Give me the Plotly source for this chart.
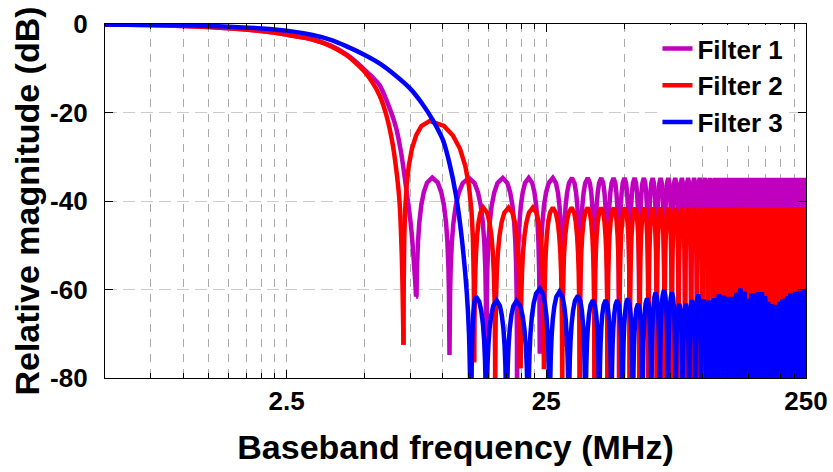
import numpy as np
import plotly.graph_objects as go

# ---------------- axis ticks ----------------
x_tick_vals = [2.5, 25, 250]
x_tick_text = ["2.5", "25", "250"]
x_minor_vals = [0.75, 1.0, 1.25, 1.5, 1.75, 2.0, 2.25,
                5, 7.5, 10, 12.5, 15, 17.5, 20, 22.5,
                50, 75, 100, 125, 150, 175, 200, 225]
y_tick_vals = [0, -20, -40, -60, -80]
y_tick_text = ["0", "-20", "-40", "-60", "-80"]

series_names = ["Filter 1", "Filter 2", "Filter 3"]
series_colors = ["#BF00BF", "#FF0000", "#0000FF"]

# ---------------- Filter 1 (magenta) ----------------
f1_pass_f = [0.5, 0.75, 1.0, 1.5, 2.0, 2.5, 3.15, 3.7, 4.24, 4.6, 5.0, 5.35, 5.7,
             6.1, 6.6, 6.9, 7.21, 7.54, 7.8, 7.88]
f1_pass_db = [-0.1, -0.25, -0.45, -0.95, -1.6, -2.4, -3.5, -4.9, -6.8, -8.4, -10.4, -12.0, -13.8,
              -17.6, -23.4, -29.0, -36.8, -45.8, -57.1, -61.6]
f1_null_f = [7.88, 10.6, 14.7, 19.3, 23.6, 28.9]
f1_null_db = [-61.6, -74.8, -95.0, -95.0, -74.5, -73.0]
f1_peak_f = [9.1, 12.6, 17.0, 21.4, 26.5, 31.4, 36.1, 40.7, 45.4, 50.0, 54.7, 59.4, 64.2,
             68.9, 73.7, 78.4, 83.2, 87.9, 92.7, 97.4, 102.2, 106.9, 111.7, 116.4, 121.2,
             125.9, 130.7, 135.4, 140.2, 144.9, 149.7, 154.4, 159.2, 163.9, 168.7, 173.4,
             178.2, 182.9, 187.7, 192.4, 197.2, 201.9, 206.7, 211.4, 216.2, 220.9, 225.7,
             230.4, 235.2, 239.9, 244.7, 249.4, 254.2]
f1_peak_db = [-34.7, -34.8, -34.8, -34.8, -34.8, -34.8, -34.8, -34.8, -34.8, -34.8, -34.8,
              -34.8, -34.8, -34.8, -34.8, -34.8, -34.8, -34.8, -34.8, -34.8, -34.8, -34.8,
              -34.8, -34.8, -34.8, -34.8, -34.8, -34.8, -34.8, -34.8, -34.8, -34.8, -34.8,
              -34.8, -34.8, -34.8, -34.8, -34.8, -34.8, -34.8, -34.8, -34.8, -34.8, -34.8,
              -34.8, -34.8, -34.8, -34.8, -34.8, -34.8, -34.8, -34.8, -34.8]

# ---------------- Filter 2 (red) ----------------
f2_pass_f = [0.5, 0.75, 1.0, 1.5, 2.0, 2.5, 3.15, 3.7, 4.24, 4.6, 5.0, 5.35, 5.7,
             6.05, 6.4, 6.6, 6.8, 6.95, 7.05]
f2_pass_db = [-0.1, -0.25, -0.45, -0.95, -1.6, -2.4, -3.5, -5.0, -7.0, -8.7, -10.8, -13.2, -16.1,
              -20.5, -27.0, -32.5, -39.8, -53.0, -72.5]
f2_null_f = [7.05, 13.2, 15.9, 19.9, 24.5]
f2_null_db = [-72.5, -76.0, -88.0, -77.7, -77.5]
f2_peak_f = [8.9, 14.3, 17.9, 22.2, 26.5, 31.3, 36.1, 40.7, 45.5, 50.2, 54.9, 59.6, 64.3,
             69.0, 73.8, 78.5, 83.3, 88.0, 92.8, 97.5, 102.3, 107.0, 111.8, 116.5, 121.3,
             126.0, 130.8, 135.5, 140.3, 145.0, 149.8, 154.5, 159.3, 164.0, 168.8, 173.5,
             178.3, 183.0, 187.8, 192.5, 197.3, 202.0, 206.8, 211.5, 216.3, 221.0, 225.8,
             230.5, 235.3, 240.0, 244.8, 249.5, 254.3]
f2_peak_db = [-21.9, -41.5, -41.5, -41.5, -41.5, -41.5, -41.5, -41.5, -41.5, -41.5, -41.5,
              -41.5, -41.5, -41.5, -41.5, -41.5, -41.5, -41.5, -41.5, -41.5, -41.5, -41.5,
              -41.5, -41.5, -41.5, -41.5, -41.5, -41.5, -41.5, -41.5, -41.5, -41.5, -41.5,
              -41.5, -41.5, -41.5, -41.5, -41.5, -41.5, -41.5, -41.5, -41.5, -41.5, -41.5,
              -41.5, -41.5, -41.5, -41.5, -41.5, -41.5, -41.5, -41.5, -41.5]

# ---------------- Filter 3 (blue) ----------------
f3_pass_f = [0.5, 0.75, 1.0, 1.5, 2.0, 2.5, 3.15, 3.7, 4.24, 5.0, 5.7, 6.5, 7.45, 8.3,
             9.14, 10.0, 10.6, 11.25, 11.8, 12.36, 12.6, 12.85]
f3_pass_db = [-0.1, -0.2, -0.3, -0.6, -1.0, -1.5, -2.5, -3.6, -5.0, -7.0, -8.9, -11.4, -14.5, -17.9,
              -21.7, -26.2, -31.5, -39.0, -48.0, -60.8, -70.0, -95.0]
f3_null_f = [12.85]
f3_null_db = [-95.0]
f3_peak_f = [13.4, 16.1, 19.2, 23.6, 28.1, 33.1, 37.8, 42.3, 46.9, 51.5, 56.4, 61.1, 65.9,
             71.0, 76.2, 81.3, 86.3, 91.2, 96.2, 101.0, 105.9, 110.7, 115.6, 120.4, 125.3,
             130.1, 135.0, 139.8, 144.7, 149.5, 154.4, 159.2, 164.1, 168.9, 173.8, 178.6,
             183.5, 188.3, 193.2, 198.0, 202.9, 207.7, 212.6, 217.4, 222.3, 227.1, 232.0,
             236.8, 241.7, 246.5, 251.4]
f3_peak_db = [-61.6, -62.5, -62.6, -59.8, -60.5, -61.4, -62.4, -62.4, -62.4, -62.0, -63.2,
              -62.0, -60.7, -60.1, -60.7, -63.2, -63.2, -62.4, -61.1, -62.3, -62.5, -62.0,
              -61.1, -61.4, -61.7, -61.7, -60.8, -59.8, -60.5, -62.2, -60.9, -60.9, -60.6,
              -60.6, -61.5, -62.8, -63.3, -63.5, -63.5, -62.8, -62.2, -62.0, -61.5, -60.9,
              -60.9, -60.6, -60.5, -60.3, -60.3, -60.0, -60.3]

# side-lobe shape: position along half-lobe (null -> peak, in log f) and drop below peak (dB)
lobe_t = [0.0, 0.01, 0.03, 0.06, 0.12, 0.2, 0.32, 0.48, 0.68, 1.0]
lobe_drop_db = [0.0, -36.1, -26.5, -20.5, -14.6, -10.2, -6.3, -3.3, -1.15, 0.0]
HIDDEN_NULL_DB = -95.0


def build_lobes(peak_f, peak_db, null_f, null_db):
    n = len(peak_f)
    nulls = list(null_f)
    depths = list(null_db)
    for i in range(len(nulls), n + 1):
        if i < n:
            nulls.append(float(np.sqrt(peak_f[i - 1] * peak_f[i])))
        else:
            nulls.append(peak_f[-1] ** 2 / nulls[-1])
        depths.append(HIDDEN_NULL_DB)
    xs = [nulls[0]]
    ys = [depths[0]]
    for i in range(n):
        lo = np.log10(nulls[i])
        pk = np.log10(peak_f[i])
        hi = np.log10(nulls[i + 1])
        for t, d in zip(lobe_t[1:], lobe_drop_db[1:]):
            xs.append(10 ** (lo + t * (pk - lo)))
            ys.append(max(peak_db[i] + d, depths[i]))
        for t, d in zip(lobe_t[-2:0:-1], lobe_drop_db[-2:0:-1]):
            xs.append(10 ** (hi - t * (hi - pk)))
            ys.append(max(peak_db[i] + d, depths[i + 1]))
        xs.append(nulls[i + 1])
        ys.append(depths[i + 1])
    return xs, ys


filters = [
    (f1_pass_f, f1_pass_db, f1_peak_f, f1_peak_db, f1_null_f, f1_null_db),
    (f2_pass_f, f2_pass_db, f2_peak_f, f2_peak_db, f2_null_f, f2_null_db),
    (f3_pass_f, f3_pass_db, f3_peak_f, f3_peak_db, f3_null_f, f3_null_db),
]

LW = 4.5
fig = go.Figure()
for (pf, pdb, kf, kdb, nf, ndb), name, col in zip(filters, series_names, series_colors):
    lx, ly = build_lobes(kf, kdb, nf, ndb)
    fig.add_trace(go.Scatter(x=pf, y=pdb, mode="lines", name=name, legendgroup=name,
                             line=dict(color=col, width=LW, shape="spline", smoothing=0.8)))
    fig.add_trace(go.Scatter(x=lx, y=ly, mode="lines", name=name, legendgroup=name,
                             showlegend=False,
                             line=dict(color=col, width=LW, simplify=False)))

FONT = "Liberation Sans, Arial, Helvetica, sans-serif"
vgrid = "#aaaaaa"
hgrid = "#cccccc"

fig.update_layout(
    width=833, height=472,
    margin=dict(l=105, r=27, t=24, b=94),
    paper_bgcolor="white", plot_bgcolor="white",
    font=dict(family=FONT, color="black"),
    showlegend=True,
    legend=dict(x=0.975, y=0.997, xanchor="right", yanchor="top",
                bgcolor="white", borderwidth=0,
                font=dict(family=FONT, size=26, color="black", weight="bold"),
                itemwidth=30, tracegroupgap=0),
    xaxis=dict(
        type="log", range=[np.log10(0.5), np.log10(250)], automargin=False,
        tickmode="array", tickvals=x_tick_vals, ticktext=x_tick_text,
        ticks="inside", ticklen=8, tickwidth=1.3, tickcolor="black",
        showline=True, linecolor="black", linewidth=1.3, mirror="ticks",
        showgrid=True, gridcolor=vgrid, gridwidth=1, griddash="8px,7px",
        minor=dict(tickmode="array", tickvals=x_minor_vals, ticks="inside",
                   ticklen=4.5, tickwidth=1, tickcolor="black",
                   showgrid=True, gridcolor=vgrid, gridwidth=1, griddash="8px,7px"),
        zeroline=False,
        tickfont=dict(family=FONT, size=26, color="black", weight="bold"),
        ticklabelstandoff=0,
        title=dict(text="Baseband frequency (MHz)", standoff=19,
                   font=dict(family=FONT, size=34, color="black", weight="bold")),
    ),
    yaxis=dict(
        range=[-80, 0], automargin=False,
        tickmode="array", tickvals=y_tick_vals, ticktext=y_tick_text,
        ticks="inside", ticklen=8, tickwidth=1.3, tickcolor="black",
        showline=True, linecolor="black", linewidth=1.3, mirror="ticks",
        showgrid=True, gridcolor=hgrid, gridwidth=1, griddash="12px,6px",
        zeroline=False,
        tickfont=dict(family=FONT, size=26, color="black", weight="bold"),
        ticklabelstandoff=11,
        title=dict(text="Relative magnitude (dB)", standoff=0,
                   font=dict(family=FONT, size=34, color="black", weight="bold")),
    ),
)

fig.write_html("out.html", config={"displayModeBar": False},
               post_script="document.body.style.margin='0px';")
